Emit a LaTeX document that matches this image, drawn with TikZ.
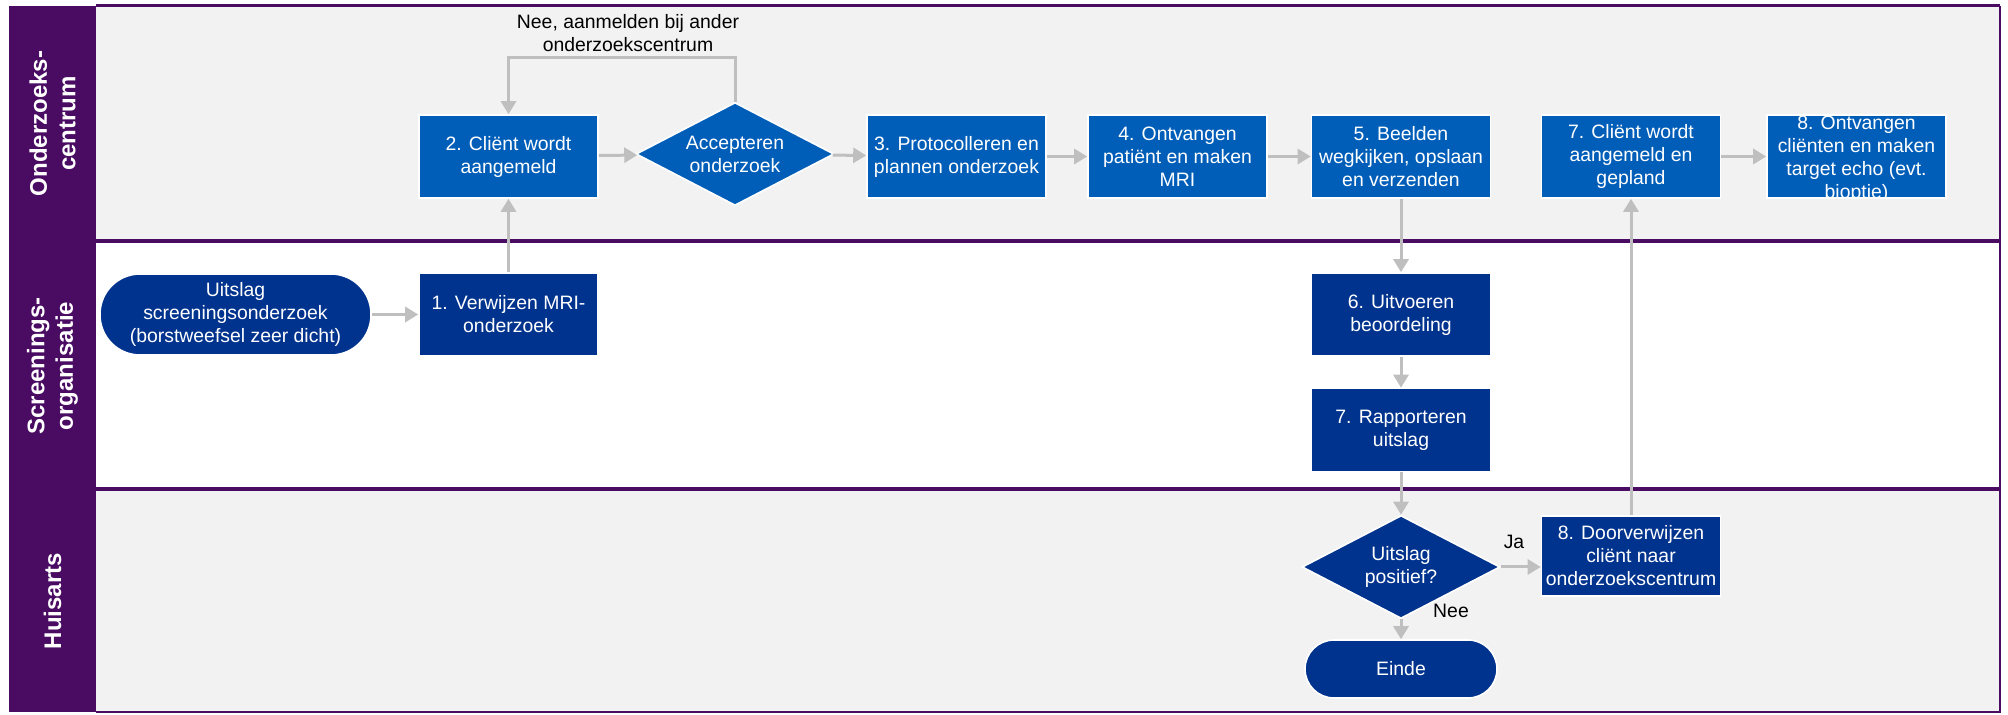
\documentclass[tikz,border=0pt]{standalone}
\usepackage{fontspec}
\setmainfont{Liberation Sans}
\usetikzlibrary{shapes.geometric,arrows.meta}
\definecolor{lanepurple}{RGB}{74,12,99}
\definecolor{lanegray}{RGB}{242,242,242}
\definecolor{midblue}{RGB}{0,94,184}
\definecolor{darkblue}{RGB}{0,51,141}
\definecolor{arrowgray}{RGB}{191,191,191}
\begin{document}
\begin{tikzpicture}[x=0.5pt,y=-0.5pt,
  boxtext/.style={text=white,font=\fontsize{9.7}{11.5}\selectfont,align=center},
  plaintext/.style={text=black,font=\fontsize{9.7}{11.5}\selectfont,align=center,inner sep=1pt},
  procbox/.style={boxtext,draw=white,line width=0.8pt,minimum width=89.5pt,minimum height=41.5pt,inner sep=1pt},
  midbox/.style={procbox,fill=midblue},
  darkbox/.style={procbox,fill=darkblue},
  decision/.style={boxtext,diamond,draw=white,line width=0.8pt,minimum width=99pt,minimum height=51.5pt,aspect=1.92,inner sep=0pt},
  terminal/.style={boxtext,fill=darkblue,draw=white,line width=0.8pt,inner sep=1pt},
  lanelabel/.style={rotate=90,text=white,font=\fontsize{12}{14.2}\selectfont\bfseries,align=center},
  flow/.style={draw=arrowgray,line width=1.5pt,-{Triangle[width=7.5pt,length=6.5pt]}},
  flowline/.style={draw=arrowgray,line width=1.5pt}
]
\useasboundingbox (0,0) rectangle (2008,715);
% lanes
\fill[lanegray] (96,6) rectangle (2000,241);
\fill[white] (96,241) rectangle (2000,489);
\fill[lanegray] (96,489) rectangle (2000,712);
\fill[lanepurple] (9,6) rectangle (96,712);
\draw[lanepurple,line width=1.5pt] (96,6) -- (2000,6);
\draw[lanepurple,line width=2pt] (96,241) -- (2000,241);
\draw[lanepurple,line width=2pt] (96,489) -- (2000,489);
\draw[lanepurple,line width=1pt] (2000,6) -- (2000,712) -- (96,712);
\node[lanelabel] (lblA) at (52.5,123.5) {Onderzoeks-\\centrum};
\node[lanelabel] (lblB) at (52.5,366) {Screenings-\\organisatie};
\node[lanelabel] (lblC) at (52.5,601) {Huisarts};

% lane 1
\node[midbox] (b2) at (508.5,156.5) {2. Cliënt wordt\\aangemeld};
\node[decision,fill=midblue] (acc) at (735,154) {Accepteren\\onderzoek};
\node[midbox] (b3) at (956.5,156.5) {3. Protocolleren en\\plannen onderzoek};
\node[midbox] (b4) at (1177.5,156.5) {4. Ontvangen\\patiënt en maken\\MRI};
\node[midbox] (b5) at (1401,156.5) {5. Beelden\\wegkijken, opslaan\\en verzenden};
\node[midbox] (b7) at (1631,156.5) {7. Cliënt wordt\\aangemeld en\\gepland};
\node[midbox] (b8) at (1856.5,156.5) {};
\begin{scope}
\clip (b8.south west) rectangle (b8.north east);
\node[boxtext] (b8t) at ([yshift=-1.5pt]b8.center) {8. Ontvangen\\cliënten en maken\\target echo (evt.\\bioptie)};
\end{scope}
\node[plaintext] (nee1) at (628,33.5) {Nee, aanmelden bij ander\\onderzoekscentrum};
\coordinate (loopA) at (735,58);
\coordinate (loopB) at (508.5,58);

% lane 2
\node[terminal,minimum width=135.5pt,minimum height=40.5pt,rounded corners=20pt] (start) at (235.5,314.5) {Uitslag\\screeningsonderzoek\\(borstweefsel zeer dicht)};
\node[darkbox] (b1) at (508.5,314.5) {1. Verwijzen MRI-\\onderzoek};
\node[darkbox] (b6) at (1401,314.5) {6. Uitvoeren\\beoordeling};
\node[darkbox] (b7r) at (1401,430) {7. Rapporteren\\uitslag};

% lane 3
\node[decision,fill=darkblue] (pos) at (1401,567) {Uitslag\\positief?};
\node[darkbox,minimum height=40pt] (b8d) at (1631,556) {8. Doorverwijzen\\cliënt naar\\onderzoekscentrum};
\node[terminal,minimum width=96pt,minimum height=29pt,rounded corners=14.5pt] (einde) at (1401,669) {Einde};
\node[plaintext] (ja) at (1514,542) {Ja};
\node[plaintext] (nee2) at (1451,611) {Nee};

% connectors
\draw[flow] (start) -- (b1);
\draw[flow] (b1) -- (b2);
\draw[flow] (b2) -- (acc);
\draw[flow] (acc) -- (b3);
\draw[flow] (b3) -- (b4);
\draw[flow] (b4) -- (b5);
\draw[flow] (b5) -- (b6);
\draw[flow] (b6) -- (b7r);
\draw[flow] (b7r) -- (pos);
\draw[flow] (pos.east) -- (pos.east -| b8d.west);
\draw[flow] (pos) -- (einde);
\draw[flow] (b8d) -- (b7);
\draw[flow] (b7) -- (b8);
\draw[flow] (acc.north) -- (loopA) -- (loopB) -- (b2.north);
\end{tikzpicture}
\end{document}
